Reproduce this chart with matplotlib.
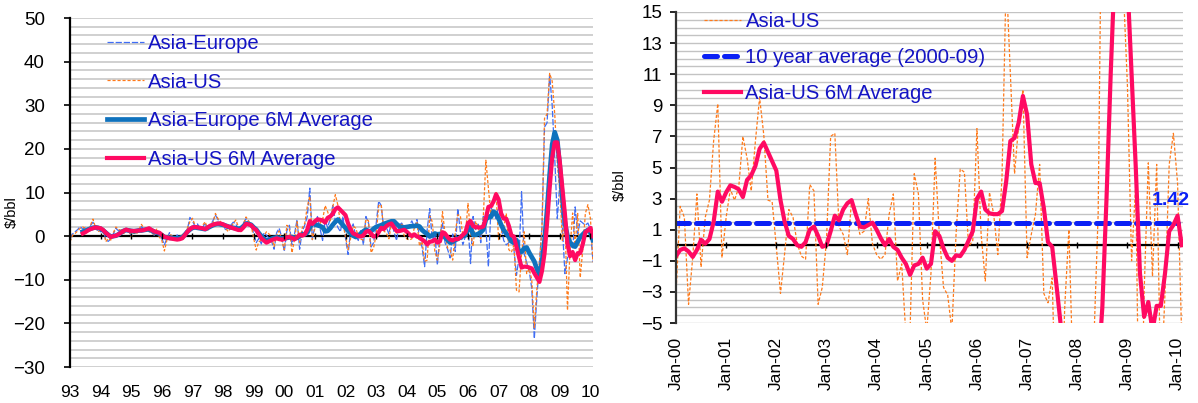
import numpy as np
import matplotlib.pyplot as plt
from matplotlib.ticker import MultipleLocator

plt.rcParams['font.family'] = ['Liberation Sans', 'DejaVu Sans']

nan = np.nan

# Monthly spreads, Jan-93 .. Feb-10 ($/bbl)
asia_europe = [
    -0.5, 0.5, 1.0, 1.5, 2.2, 1.6, 2.0, 1.2, 2.4, 3.2, 1.8, 1.2,        # 1993
    1.0, 1.5, -0.8, -1.2, -0.6, 0.5, 1.8, 1.2, 1.6, 0.9, 1.2, 1.0,      # 1994
    0.2, 0.6, 1.0, 1.2, 2.2, 1.6, 1.8, 1.0, 0.8, 0.2, 1.2, 0.4,         # 1995
    -0.5, -2.0, -0.5, 0.8, -0.2, -0.7, 0.3, -1.0, 0.2, 0.5, 1.5, 4.3,   # 1996
    3.5, 2.2, 2.8, 1.5, 2.0, 3.0, 1.2, 2.5, 3.5, 4.8, 3.8, 3.0,         # 1997
    2.2, 1.5, 1.8, 2.5, 3.2, 2.8, 1.5, 1.2, 3.0, 4.0, 3.0, 2.8,         # 1998
    0.5, -1.5, -0.5, -1.8, 0.8, 0.2, -0.5, -1.2, -3.0, 0.8, 1.8, -0.3,  # 1999
    -3.5, 1.2, 2.5, -2.0, 0.5, 3.8, -3.0, 1.0, 2.5, 4.5, 11.0, -0.8,    # 2000
    2.5, 4.5, 1.8, -1.0, 3.5, 2.0, 4.0, 7.0, 3.5, 2.0, 1.0, 4.5,        # 2001
    -0.5, -4.2, 1.5, 2.8, 0.0, -1.0, 1.5, -2.0, 4.5, 3.0, -2.5, -1.5,   # 2002
    2.8, 8.0, 7.0, 1.5, 2.0, 0.5, 3.5, 1.0, -1.0, 2.5, 3.0, 2.0,        # 2003
    1.8, 2.5, 3.5, 2.0, 3.8, -0.5, -2.5, -7.0, 1.5, 6.3, -1.0, 0.5,     # 2004
    -6.6, 0.5, 3.0, -1.5, -3.0, -5.0, 0.5, -3.5, 6.3, 1.0, -2.0, 0.0,   # 2005
    2.5, -6.3, 4.5, 1.5, 3.0, -1.5, 4.5, 2.0, -7.0, 6.5, 5.5, 4.0,      # 2006
    7.0, 2.0, -1.0, -2.0, -1.5, 1.0, -3.0, -9.0, -5.0, 10.2, -4.0, -6.0,  # 2007
    -8.0, -12.0, -23.5, -14.0, -6.0, 2.0, 25.0, 26.0, 37.0, 30.0, 18.0, 4.0,  # 2008
    12.0, 2.0, -8.6, -5.0, -3.0, -4.0, 6.7, 0.5, 3.5, 3.0, 2.5, 3.0,    # 2009
    1.5, -5.9,                                                          # 2010
]

asia_us = [
    -1.3, 0.2, 0.6, 1.2, 1.8, 2.1, 1.8, 1.0, 2.5, 3.9, 2.0, 1.0,        # 1993
    1.4, 1.8, -1.3, -0.5, -0.9, 0.8, 2.1, 1.5, 1.4, 0.6, 1.0, 1.5,      # 1994
    -0.2, 0.8, 0.4, 1.5, 2.7, 1.8, 1.4, 1.1, 0.7, 0.4, 1.6, -0.2,       # 1995
    -1.0, -3.4, -0.9, 0.5, 0.1, -0.9, -0.2, -0.5, 0.6, 0.1, 1.8, 3.3,   # 1996
    4.1, 2.5, 2.2, 1.8, 2.5, 3.3, 1.4, 2.0, 2.9, 5.2, 4.0, 3.3,         # 1997
    2.5, 1.8, 1.0, 2.0, 2.9, 3.7, 2.1, 1.0, 2.8, 4.4, 3.5, 2.5,         # 1998
    -0.5, -3.2, -1.3, -0.9, 0.0, 1.0, 0.5, -0.2, -2.4, 0.2, 1.2, -1.0,  # 1999
    -3.1, 2.5, 1.8, -3.8, -0.8, 3.3, -1.4, 1.8, 2.9, 6.7, 9.1, -0.8,    # 2000
    1.8, 3.6, 2.9, 3.7, 7.0, 5.6, 3.5, 6.7, 9.5, 7.1, 2.9, 2.8,         # 2001
    -0.1, -3.1, -0.5, 2.3, 1.8, 0.1, -0.7, -0.9, 3.9, 3.5, -3.8, -2.7,  # 2002
    0.3, 7.0, 7.2, 1.2, 0.7, -0.6, 2.9, 1.9, 0.7, 0.9, 3.0, 0.1,        # 2003
    -0.6, -0.9, -0.6, 2.0, 3.3, -2.3, -1.2, -5.8, -5.5, 4.6, 3.3, -3.5, # 2004
    -5.5, -1.8, 5.6, 0.7, -2.7, -3.2, -5.5, 0.7, 4.9, 4.7, -0.1, 0.3,   # 2005
    7.5, 0.7, -2.3, 3.4, 2.0, -0.6, 4.4, 17.4, 11.0, 4.6, 7.8, 10.0,    # 2006
    -0.8, 0.7, 2.0, 5.2, -3.1, -3.7, -2.1, -12.4, -12.8, -4.0, 1.0, -8.6,   # 2007
    -7.5, -10.0, -21.0, -12.0, -6.0, 2.0, 27.0, 28.0, 37.3, 35.5, 28.0, 16.7,  # 2008
    10.3, -1.0, 4.0, -17.0, -3.0, 5.3, -2.0, 5.2, -9.5, -3.0, 5.2, 7.2, # 2009
    4.0, -6.0,                                                          # 2010
]

# Six-month averages (no value until the first full window)
asia_europe_6m = [
    nan, nan, nan, nan, nan, 1.0, 1.2, 1.5, 1.7, 1.9, 2.0, 1.9,         # 1993
    1.7, 1.3, 0.8, 0.3, -0.1, 0.0, 0.1, 0.4, 0.8, 1.2, 1.4, 1.3,        # 1994
    1.2, 1.1, 1.2, 1.3, 1.3, 1.4, 1.5, 1.6, 1.3, 1.0, 0.8, 0.6,         # 1995
    0.2, -0.2, -0.3, -0.4, -0.4, -0.5, -0.5, -0.4, -0.3, 0.3, 1.0, 1.5, # 1996
    1.9, 2.0, 1.9, 1.8, 1.7, 1.6, 1.9, 2.2, 2.5, 2.7, 2.8, 2.7,         # 1997
    2.6, 2.4, 2.2, 2.0, 1.9, 1.8, 1.7, 1.8, 2.3, 2.9, 2.8, 2.6,         # 1998
    2.0, 1.5, 0.7, 0.0, -0.6, -1.0, -0.9, -0.6, -0.4, -0.3, -0.4, -0.5, # 1999
    -0.5, -0.4, -0.3, -0.2, -0.4, -0.4, 0.0, 0.4, 0.4, 0.8, 2.0, 2.9,   # 2000
    2.7, 2.5, 2.3, 2.0, 1.1, 1.2, 1.8, 2.6, 3.3, 3.8, 3.2, 2.5,         # 2001
    1.9, 1.2, 0.6, 0.1, -0.2, 0.1, 0.6, 1.1, 1.5, 1.1, 1.1, 1.7,        # 2002
    2.1, 2.3, 2.5, 2.8, 3.0, 3.2, 3.4, 3.4, 2.8, 2.3, 2.0, 2.0,         # 2003
    2.1, 2.2, 2.3, 2.3, 2.4, 2.2, 1.4, 0.9, 0.5, -0.1, 0.2, 0.6,        # 2004
    0.4, 0.5, 0.2, -0.3, -0.9, -1.5, -1.3, -0.9, -0.6, -0.3, 0.0, 0.2,  # 2005
    1.5, 2.2, 0.3, 0.3, 0.5, 0.9, 1.5, 3.8, 4.4, 4.4, 5.6, 5.2,         # 2006
    4.0, 2.6, 1.4, 0.6, -0.2, -1.2, -1.5, -0.9, -3.8, -3.6, -2.8, -2.6, # 2007
    -3.8, -4.8, -5.8, -7.5, -8.8, -6.0, -1.0, 6.0, 14.0, 21.0, 23.8, 22.0,  # 2008
    16.0, 9.0, 3.0, 0.0, -1.4, -2.2, -2.4, -1.3, -0.2, 0.4, 1.0, 1.4,   # 2009
    0.8, -0.9,                                                          # 2010
]

asia_us_6m = [
    nan, nan, nan, nan, nan, 0.6, 0.9, 1.3, 1.6, 1.8, 2.0, 1.9,         # 1993
    1.8, 1.4, 0.8, 0.3, -0.2, 0.0, 0.1, 0.4, 0.8, 1.2, 1.5, 1.3,        # 1994
    1.2, 1.2, 1.2, 1.3, 1.3, 1.4, 1.6, 1.8, 1.4, 1.1, 0.9, 0.8,         # 1995
    0.3, -0.2, -0.3, -0.5, -0.6, -0.7, -0.8, -0.7, -0.5, 0.2, 1.0, 1.6, # 1996
    2.0, 2.1, 2.0, 1.9, 1.8, 1.6, 2.0, 2.4, 2.6, 2.8, 2.9, 2.9,         # 1997
    2.7, 2.4, 2.2, 2.0, 1.8, 1.6, 1.4, 1.4, 2.0, 2.8, 2.7, 2.5,         # 1998
    1.8, 1.4, 0.4, -0.5, -1.0, -1.5, -1.2, -0.9, -0.7, -0.5, -0.7, -0.8,    # 1999
    -0.7, -0.3, -0.2, -0.4, -0.75, -0.3, 0.35, 0.1, 0.4, 1.5, 3.45, 2.8,    # 2000
    3.4, 3.85, 3.75, 3.6, 3.1, 4.2, 4.5, 5.1, 6.2, 6.6, 6.0, 5.4,       # 2001
    4.8, 2.9, 1.5, 0.6, 0.4, 0.0, -0.1, 0.2, 1.0, 1.2, 0.6, -0.1,       # 2002
    0.0, 0.9, 1.9, 1.6, 2.3, 2.7, 2.9, 2.0, 1.2, 1.15, 1.3, 1.45,       # 2003
    1.0, 0.45, 0.0, 0.4, -0.1, -0.3, -0.8, -1.2, -1.9, -1.3, -1.2, -0.8,    # 2004
    -1.5, -1.2, 0.9, 0.6, -0.2, -0.8, -1.0, -0.65, -0.7, -0.3, 0.3, 0.9,    # 2005
    3.0, 3.45, 2.3, 2.05, 2.0, 2.0, 2.2, 4.1, 6.7, 6.9, 7.9, 9.6,       # 2006
    8.4, 5.2, 4.0, 4.0, 2.4, 0.2, -0.1, -2.5, -5.0, -7.2, -7.0, -7.0,   # 2007
    -7.2, -7.4, -8.5, -9.5, -10.5, -8.0, -4.0, 3.0, 11.0, 18.0, 21.5, 21.5,  # 2008
    17.0, 11.0, 5.0, -1.8, -4.6, -3.65, -5.5, -3.9, -3.9, -1.8, 0.9, 1.3,   # 2009
    1.9, 0.0,                                                           # 2010
]

ten_year_avg = 1.42   # Asia-US average, 2000-09

year_labels = ['93', '94', '95', '96', '97', '98', '99', '00', '01',
               '02', '03', '04', '05', '06', '07', '08', '09', '10']
jan_labels = ['Jan-00', 'Jan-01', 'Jan-02', 'Jan-03', 'Jan-04', 'Jan-05',
              'Jan-06', 'Jan-07', 'Jan-08', 'Jan-09', 'Jan-10']
start_2000 = 84   # index of Jan-00 in the monthly series

c_eu = '#3f6df5'
c_us = '#ff7a1a'
c_eu6 = '#0f72bd'
c_us6 = '#ff0a62'
c_avg = '#0a20f5'
c_text = '#1414c4'
c_grid = '#c3c3c3'

months = np.arange(len(asia_us))

fig = plt.figure(figsize=(11.98, 4.03), dpi=100)

# ---- left panel: full history, both routes
ax1 = fig.add_axes([70 / 1198, 1 - 367 / 403, 523 / 1198, 349 / 403])
ax1.plot(months, asia_europe, color=c_eu, lw=0.9, dashes=(5, 1.5), label='Asia-Europe')
ax1.plot(months, asia_us, color=c_us, lw=0.9, dashes=(2.5, 1.5), label='Asia-US')
ax1.plot(months, asia_europe_6m, color=c_eu6, lw=3.4, label='Asia-Europe 6M Average')
ax1.plot(months, asia_us_6m, color=c_us6, lw=3.0, label='Asia-US 6M Average')
ax1.axhline(0, color='black', lw=1.6, zorder=1.5)
year_idx = months[::12]
ax1.plot(year_idx, np.zeros(len(year_idx)), ls='none', marker='|', ms=5, mew=1, color='black')

ax1.set_xlim(0, 205)
ax1.set_ylim(-30, 50)
ax1.yaxis.set_major_locator(MultipleLocator(10))
ax1.yaxis.set_minor_locator(MultipleLocator(2))
ax1.grid(axis='y', which='both', color=c_grid, lw=1.1)
ax1.set_axisbelow(True)
ax1.set_xticks(year_idx)
ax1.set_xticklabels(year_labels)
ax1.tick_params(axis='x', length=0, pad=13, labelsize=12.5)
ax1.tick_params(axis='y', which='major', direction='out', length=4, width=1.2,
                pad=14, labelsize=13.5)
ax1.tick_params(axis='y', which='minor', length=0)
for side in ('top', 'right', 'bottom'):
    ax1.spines[side].set_visible(False)
ax1.spines['left'].set_linewidth(1.6)
ax1.set_ylabel('$/bbl', fontsize=10.5)
ax1.yaxis.set_label_coords(-0.097, 0.445)

ax1.legend(loc='upper left', bbox_to_anchor=(0.07, 0.955), frameon=False,
           fontsize=14.6, labelcolor=c_text, handlelength=1.85, handletextpad=0.2,
           labelspacing=0.98, borderpad=0, borderaxespad=0)

# ---- right panel: Asia-US since 2000, zoomed
ax2 = fig.add_axes([676 / 1198, 1 - 323 / 403, 507 / 1198, 311 / 403])
m2 = months[start_2000:] - start_2000
ax2.plot(m2, asia_us[start_2000:], color=c_us, lw=0.9, dashes=(2.5, 1.5), label='Asia-US')
avg_x = m2[:121]
ax2.plot(avg_x, np.full(len(avg_x), ten_year_avg), color=c_avg, lw=3.6,
         dashes=(2.6, 1.4), dash_capstyle='round', label='10 year average (2000-09)')
ax2.plot(m2, asia_us_6m[start_2000:], color=c_us6, lw=3.0, label='Asia-US 6M Average')
ax2.axhline(0, color='black', lw=1.6, zorder=1.5)
jan_idx = m2[::12]
ax2.plot(jan_idx, np.zeros(len(jan_idx)), ls='none', marker='|', ms=5, mew=1, color='black')
ax2.annotate(f'{ten_year_avg:.2f}', xy=(avg_x[-1], ten_year_avg), xytext=(-5, 10),
             textcoords='offset points', ha='center', va='bottom',
             fontsize=14, fontweight='bold', color=c_avg, annotation_clip=False)

ax2.set_xlim(0, 121.3)
ax2.set_ylim(-5, 15)
ax2.yaxis.set_major_locator(MultipleLocator(2, offset=1))
ax2.yaxis.set_minor_locator(MultipleLocator(0.5))
ax2.grid(axis='y', which='both', color=c_grid, lw=1.0)
ax2.set_axisbelow(True)
ax2.set_xticks(jan_idx)
ax2.set_xticklabels(jan_labels, rotation=90)
ax2.tick_params(axis='x', length=0, pad=10, labelsize=12.5)
ax2.tick_params(axis='y', which='major', direction='out', length=4, width=1.2,
                pad=6, labelsize=13.5)
ax2.tick_params(axis='y', which='minor', length=0)
for side in ('top', 'right', 'bottom'):
    ax2.spines[side].set_visible(False)
ax2.spines['left'].set_linewidth(1.6)
ax2.spines['left'].set_color('#333333')
ax2.set_ylabel('$/bbl', fontsize=10.5)
ax2.yaxis.set_label_coords(-0.097, 0.445)

ax2.legend(loc='upper left', bbox_to_anchor=(0.055, 1.0), frameon=False,
           fontsize=14.6, labelcolor=c_text, handlelength=1.85, handletextpad=0.2,
           labelspacing=0.85, borderpad=0, borderaxespad=0)

fig.savefig('out.png', dpi=100)
